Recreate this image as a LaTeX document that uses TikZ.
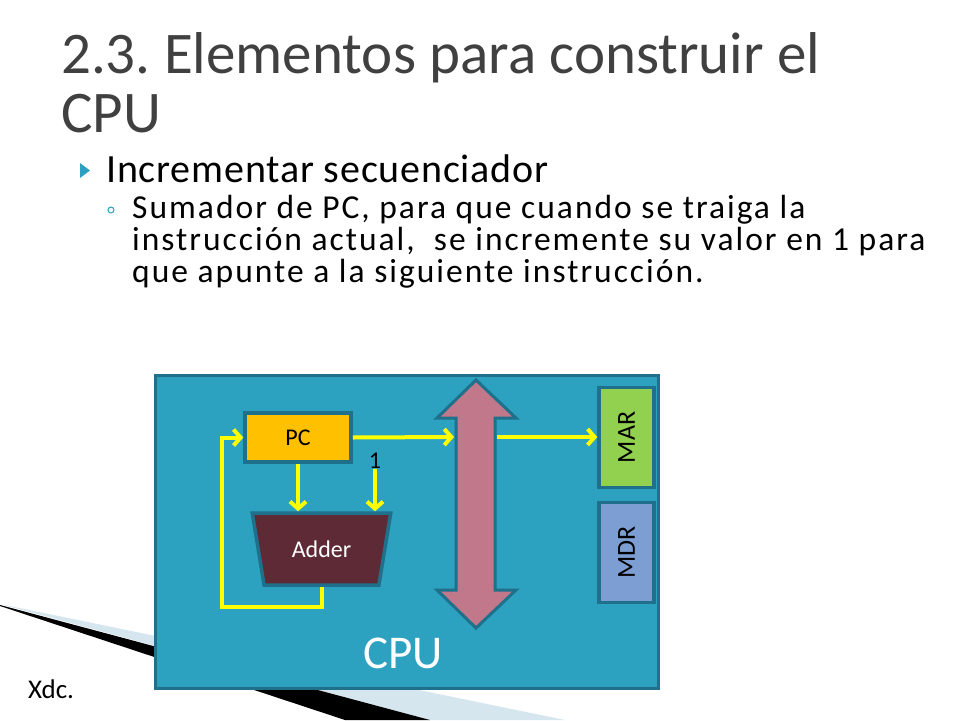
\documentclass[tikz,border=0pt]{standalone}
\usepackage{fontspec}
\setmainfont{Carlito}
\newfontfamily\trackedfont[LetterSpace=6]{Carlito}
\newfontfamily\itemfont[LetterSpace=2]{Carlito}
\usetikzlibrary{arrows.meta,shapes.geometric}

\definecolor{titlegray}{RGB}{64,64,64}
\definecolor{bulletteal}{RGB}{44,160,192}
\definecolor{cpublue}{RGB}{44,161,192}
\definecolor{cpuedge}{RGB}{31,112,138}
\definecolor{pcorange}{RGB}{255,192,0}
\definecolor{addermaroon}{RGB}{94,42,54}
\definecolor{busrose}{RGB}{192,120,138}
\definecolor{margreen}{RGB}{146,208,80}
\definecolor{mdrblue}{RGB}{124,158,210}
\definecolor{wireyellow}{RGB}{255,255,0}
\definecolor{wedgeblue}{RGB}{214,230,238}

\tikzset{
  titletext/.style = {anchor=base west, inner sep=0pt, text=titlegray, font=\fontsize{59}{59}\selectfont},
  bodytext/.style  = {anchor=base west, inner sep=0pt, font=\trackedfont\fontsize{33.5}{33.5}\selectfont},
  unit/.style      = {draw=cpuedge, line width=3.5pt, inner sep=0pt, font=\fontsize{24}{24}\selectfont},
  wire/.style      = {draw=wireyellow, line width=4pt, -{Straight Barb[length=7pt, width=16pt]}},
}

\begin{document}
\frenchspacing
\begin{tikzpicture}[x=1pt, y=-1pt]
  \useasboundingbox[fill=white] (0,0) rectangle (960,720);
  % slide decoration
  \fill[wedgeblue] (0,604) -- (565,720) -- (430,720) -- cycle;
  \fill[black] (0,605) -- (430,720) -- (345,720) -- (0,606) -- cycle;
  % title
  \node[titletext] (title1) at (61,73)  {2.3. Elementos para construir el};
  \node[titletext] (title2) at (61,132) {CPU};
  % bullets
  \fill[bulletteal] (80,163) -- (90,170.5) -- (80,178) -- cycle;
  \node[bodytext, font=\itemfont\fontsize{40}{40}\selectfont] (item) at (106,182) {Incrementar secuenciador};
  \draw[bulletteal, line width=1pt] (111,210) circle (3);
  \node[bodytext] (sub1) at (132,218) {Sumador de PC, para que cuando se traiga la};
  \node[bodytext] (sub2) at (132,250) {instrucción actual,\ \ se incremente su valor en 1 para};
  \node[bodytext] (sub3) at (132,282) {que apunte a la siguiente instrucción.};
  \node[bodytext, font=\fontsize{27}{27}\selectfont] (author) at (28,698) {Xdc.};
  % cpu
  \node[draw=cpuedge, fill=cpublue, line width=2.5pt, minimum width=503pt, minimum height=313pt,
        anchor=north west, inner sep=0pt] (cpu) at (154,374) {};
  \node[text=white, font=\fontsize{47}{47}\selectfont, anchor=base, inner sep=0pt] (cpulabel) at (403,668) {CPU};
  % bus
  \filldraw[fill=busrose, draw=cpuedge, line width=3pt, line join=miter]
    (476,380) -- (516,418) -- (495,418) -- (495,590) -- (516,590) -- (476,628)
    -- (437,590) -- (456,590) -- (456,418) -- (437,418) -- cycle;
  \coordinate (busin)  at (454,437);
  \coordinate (busout) at (497,437);
  % units
  \node[unit, fill=pcorange, minimum width=106pt, minimum height=49pt] (pc) at (298,437.5) {PC};
  \node[unit, trapezium, shape border rotate=180, trapezium angle=70, trapezium stretches=true,
        minimum width=139pt, minimum height=72pt, fill=addermaroon, text=white] (adder) at (321.5,549) {Adder};
  \node[unit, fill=margreen, minimum width=100pt, minimum height=55pt, rotate=90,
        font=\fontsize{26}{26}\selectfont] (mar) at (626.5,437.5) {MAR};
  \node[unit, fill=mdrblue, minimum width=100pt, minimum height=55pt, rotate=90,
        font=\fontsize{26}{26}\selectfont] (mdr) at (626.5,552.5) {MDR};
  \node[font=\fontsize{24}{24}\selectfont, inner sep=0pt] (one) at (375,461) {1};
  \coordinate (loop) at (222,607);
  % wires
  \draw[wire] (pc.east) -- (busin);
  \draw[wire] (busout) -- (busout -| mar.north);
  \draw[wire] (pc.south) -- (pc.south |- adder.north);
  \draw[wire] (one.south) -- (one.south |- adder.north);
  \draw[wire] (adder.south) |- (loop) |- (pc.west);
\end{tikzpicture}
\end{document}
